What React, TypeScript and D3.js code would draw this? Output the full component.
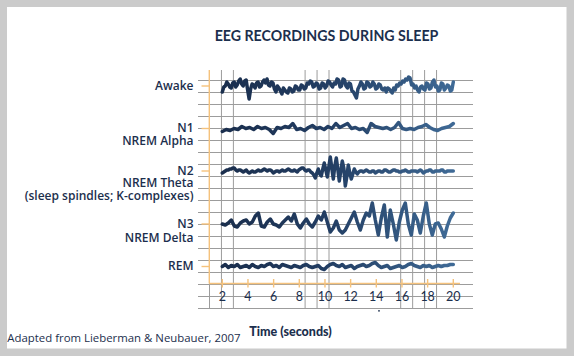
import React from "react";
import * as d3 from "d3";

// ---------- DATA ----------
const TITLE = "EEG RECORDINGS DURING SLEEP";
const X_LABEL = "Time (seconds)";
const SOURCE = "Adapted from Lieberman & Neubauer, 2007";
const TIME_TICKS = [2, 4, 6, 8, 10, 12, 14, 16, 18, 20];
const STAGE_LABELS: string[][] = [
  ["Awake"],
  ["N1", "NREM Alpha"],
  ["N2", "NREM Theta", "(sleep spindles; K-complexes)"],
  ["N3", "NREM Delta"],
  ["REM"],
];

// signal values (relative amplitude, up = positive), evenly sampled from 2 s to 20 s
const AWAKE = [-6,-1,0,4,2,-1,-2,3,4,-1,1,5,7,2,0,5,6,-4,-13,-3,2,1,-2,3,4,-1,0,4,6,3,7,1,0,4,3,-3,-6,0,-2,-5,-8,-2,-4,-6,-7,-2,-3,-6,-5,0,-1,-4,-4,1,0,-3,-2,3,2,5,4,-1,0,3,2,-3,-2,3,2,-2,0,5,4,1,-1,3,2,7,6,-1,0,7,6,0,-2,3,2,-5,-6,-9,-12,-3,0,4,2,-3,-2,4,3,-1,0,4,2,-3,-2,2,1,-3,-4,-2,-6,-2,-3,-5,-7,-2,-4,1,0,3,2,5,4,7,6,9,8,1,2,-2,0,-4,-6,-1,0,-3,-4,3,2,-3,-2,4,6,-1,0,-5,-4,3,2,-4,-2,1,0,-5,-4,4];
const N1 = [-3,-1,-2,0,-1,2,0,1,-1,2,0,1,-1,-5,1,0,2,1,5,-1,0,-2,1,3,0,1,-1,2,0,5,1,3,5,0,1,-1,0,-4,5,2,1,0,1,-1,1,6,0,-1,0,-1,1,2,4,1,-1,-2,0,1,2,5];
const N2 = [-2,-1,0,1,1,2,2,3,3,1,0,1,1,0,-1,0,1,-1,-2,-1,0,-1,-1,0,1,0,0,1,2,1,0,1,1,0,-2,-1,0,0,-1,0,1,0,0,1,2,1,0,0,1,0,-1,1,2,3,3,1,0,1,1,-1,-2,
  -4,-7,-2,2,-3,-5,2,8,1,-6,4,14,3,-8,5,13,2,-10,0,10,3,-15,-6,6,-2,-8,-3,2,
  -1,-3,-1,0,0,-1,0,1,0,-1,-1,0,0,-2,-1,0,0,-1,-1,1,1,0,-1,-1,0,1,1,0,0,-1,-1,0,0,1,0,-1,-1,0,0,0,0,-1,0,1,0,-2,-1,0,0,1,1,-1,-1,0,0,0,0,1,1,-1,-1,0,0,0,0,0];
const N3 = [0,-1,1,4,-2,-3,1,3,4,0,2,8,11,-2,-3,2,5,0,-1,-3,1,4,7,3,10,0,-4,1,5,0,-3,2,8,4,12,2,-8,-4,3,-6,-9,-6,0,6,12,2,-6,4,11,8,21,4,-11,6,19,-13,14,0,-16,2,14,21,0,-11,10,4,-9,8,21,0,-11,0,1,-5,-13,-2,6,11];
const REM = [0,2,-1,1,0,2,-1,0,1,-1,2,0,-1,1,0,2,3,0,1,-1,2,1,0,-1,1,0,-1,1,2,0,-1,0,1,-2,-3,0,2,3,1,0,2,-1,0,1,-2,0,1,2,0,1,3,4,1,-1,0,1,-2,-1,0,1,-1,0,2,3,1,0,-1,1,0,1,-1,0,1,0,1,1,2,2];
const SERIES = [AWAKE, N1, N2, N3, REM];

// ---------- LAYOUT ----------
const W = 574, H = 356;
const ROW_Y = [86, 128.5, 171, 224, 266.5];
const LABEL_BASELINES = [[89.5], [131.5, 145.2], [175, 187.3, 199.6], [228.3, 242.3], [270.2]];
const NAVY = "#1c2f4d";
const ORANGE = "#f5c27c";
const GRID = "#9c9c9c";
const FONT = "Lato, 'Open Sans', sans-serif";
const LABEL_FONT = "'Open Sans', Lato, sans-serif";

export default function App() {
  const x = d3.scaleLinear().domain([2, 20]).range([222.3, 453.3]);
  const amp = d3.scaleLinear().domain([-1, 1]).range([1, -1]);
  const gridStep = 11.95;
  const gridX0 = 209.5;
  const vIdx = [0, 1, 2, 8, 9, 10, 16, 17, 18, 19];
  const hIdx = d3.range(0, 20);
  const axisY = 283.5;
  const axisX = 209.3;

  const line = (vals: number[], base: number) =>
    d3
      .line<number>()
      .x((_, i) => x(2 + (18 * i) / (vals.length - 1)))
      .y((v) => base + amp(v))
      .curve(d3.curveLinear)(vals) || "";

  return (
    <svg width={W} height={H} style={{ position: "absolute", left: 0, top: 0 }}>
      <defs>
        <linearGradient id="trace" gradientUnits="userSpaceOnUse" x1={x(2)} x2={x(20)} y1={0} y2={0}>
          <stop offset="0%" stopColor="#1a2e4d" />
          <stop offset="45%" stopColor="#223d62" />
          <stop offset="100%" stopColor="#3f6a96" />
        </linearGradient>
      </defs>
      <rect x={0} y={0} width={W} height={H} fill="#cbcbcb" />
      <rect x={7} y={7} width={559.5} height={341.5} fill="#ffffff" />

      {/* grid */}
      <g stroke={GRID} strokeWidth={1}>
        {hIdx.map((k) => (
          <line key={"h" + k} x1={198} x2={473} y1={80.5 + 12 * k} y2={80.5 + 12 * k} />
        ))}
        {vIdx.map((k) => (
          <line key={"v" + k} x1={gridX0 + gridStep * k} x2={gridX0 + gridStep * k} y1={70} y2={309} />
        ))}
      </g>

      {/* orange axes */}
      <g stroke={ORANGE} strokeWidth={1.4}>
        <line x1={axisX} x2={axisX} y1={70} y2={axisY} />
        <line x1={axisX} x2={460} y1={axisY} y2={axisY} />
        {TIME_TICKS.map((t) => (
          <line key={"t" + t} x1={x(t)} x2={x(t)} y1={axisY - 4.5} y2={axisY + 4} />
        ))}
        {ROW_Y.map((y, i) => (
          <line key={"r" + i} x1={201.5} x2={axisX} y1={y} y2={y} />
        ))}
      </g>

      {/* tick labels */}
      <g fill={NAVY} fontFamily={FONT} fontSize={12.5} textAnchor="middle">
        {TIME_TICKS.map((t) => (
          <text key={"tl" + t} x={x(t)} y={301}>
            {t}
          </text>
        ))}
      </g>

      {/* traces */}
      <g fill="none" stroke="url(#trace)" strokeWidth={3.5} strokeLinejoin="round" strokeLinecap="round">
        {SERIES.map((s, i) => (
          <path key={"s" + i} d={line(s, ROW_Y[i])} />
        ))}
      </g>

      {/* row labels */}
      <g fill={NAVY} fontFamily={LABEL_FONT} fontSize={12} fontWeight={600} textAnchor="end">
        {STAGE_LABELS.map((lines, i) =>
          lines.map((l, j) => (
            <text key={i + "-" + j} x={193.5} y={LABEL_BASELINES[i][j]}>
              {l}
            </text>
          ))
        )}
      </g>

      <text x={326.5} y={40.7} textAnchor="middle" fill={NAVY} fontFamily={FONT} fontSize={14.2} fontWeight={700}>
        {TITLE}
      </text>
      <text x={290.5} y={336} textAnchor="middle" fill={NAVY} fontFamily={FONT} fontSize={12.5} fontWeight={900}>
        {X_LABEL}
      </text>
      <text x={7.3} y={341.5} fill={NAVY} fontFamily="'Open Sans', sans-serif" fontSize={11.4}>
        {SOURCE}
      </text>
      <circle cx={379} cy={310.8} r={0.9} fill={NAVY} />
    </svg>
  );
}
